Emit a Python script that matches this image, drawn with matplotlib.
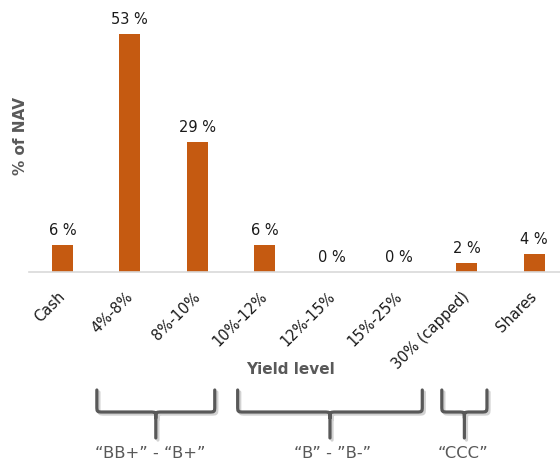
import matplotlib
matplotlib.use("Agg")
import matplotlib.pyplot as plt
import matplotlib.patheffects as pe
import matplotlib.transforms as mtransforms
from matplotlib.path import Path
from matplotlib.patches import PathPatch

# Data
categories = ["Cash", "4%-8%", "8%-10%", "10%-12%", "12%-15%", "15%-25%", "30% (capped)", "Shares"]
values = [6, 53, 29, 6, 0, 0, 2, 4]

# rating groups shown under the axis (x span in category units)
group_labels = ["\u201cBB+\u201d - \u201cB+\u201d", "\u201cB\u201d - \u201dB-\u201d", "\u201cCCC\u201d"]
group_spans = [(0.51, 2.26), (2.60, 5.34), (5.63, 6.30)]
group_label_x = [1.30, 4.01, 5.95]

bar_color = "#C55A11"
grey = "#595959"

plt.rcParams['font.family'] = ['DejaVu Sans']

fig = plt.figure(figsize=(5.6, 4.66), dpi=100)
ax = fig.add_axes([28.8 / 560, 194 / 466, 539 / 560, 272 / 466])

x = range(len(categories))
ax.bar(x, values, width=0.31, color=bar_color, zorder=2)
ax.set_xlim(-0.5, len(categories) - 0.5)
ax.set_ylim(0, 60.5)

for i, v in zip(x, values):
    ax.annotate(f"{v} %", (i, v), xytext=(0, 5), textcoords="offset points",
                ha="center", va="bottom", fontsize=10.5, color="#1a1a1a")

ax.set_xticks(list(x))
ax.set_xticklabels(categories, rotation=45, ha="right", rotation_mode="anchor",
                   fontsize=10.5, color="#1a1a1a")
ax.tick_params(axis="x", length=0, pad=8)
shift = mtransforms.ScaledTranslation(-5 / 100, -6 / 100, fig.dpi_scale_trans)
for lab in ax.get_xticklabels():
    lab.set_transform(lab.get_transform() + shift)
ax.set_yticks([])

for s in ["top", "right", "left"]:
    ax.spines[s].set_visible(False)
ax.spines["bottom"].set_color("#d9d9d9")
ax.spines["bottom"].set_linewidth(1.2)

ax.set_ylabel("% of NAV", fontsize=11, color=grey, fontweight="bold")
ax.yaxis.set_label_coords(-0.001, 0.5)
ax.text(0.486, -0.36, "Yield level", transform=ax.transAxes, ha="center", va="center",
        fontsize=11, color=grey, fontweight="bold")

# braces
px_x = 539 / 8
px_y = 272 / 60.5
y_top = -(390 - 272) / px_y
y_mid = -(412 - 272) / px_y
y_tip = -(438 - 272) / px_y
rx = 6 / px_x
ry = 6 / px_y
for (x0, x1), lab, lx in zip(group_spans, group_labels, group_label_x):
    xc = (x0 + x1) / 2
    verts = [
        (x0, y_top), (x0, y_mid + ry),
        (x0, y_mid), (x0, y_mid), (x0 + rx, y_mid),
        (xc - rx, y_mid),
        (xc, y_mid), (xc, y_mid), (xc, y_mid - ry),
        (xc, y_tip),
        (x1, y_top), (x1, y_mid + ry),
        (x1, y_mid), (x1, y_mid), (x1 - rx, y_mid),
        (xc + rx, y_mid),
        (xc, y_mid), (xc, y_mid), (xc, y_mid - ry),
    ]
    codes = [Path.MOVETO, Path.LINETO, Path.CURVE4, Path.CURVE4, Path.CURVE4,
             Path.LINETO, Path.CURVE4, Path.CURVE4, Path.CURVE4, Path.LINETO,
             Path.MOVETO, Path.LINETO, Path.CURVE4, Path.CURVE4, Path.CURVE4,
             Path.LINETO, Path.CURVE4, Path.CURVE4, Path.CURVE4]
    patch = PathPatch(Path(verts, codes), fill=False, lw=2.3, ec=grey, clip_on=False,
                      capstyle="round", joinstyle="round",
                      path_effects=[pe.SimpleLineShadow(offset=(1.5, -1.5), shadow_color="gray", alpha=0.35),
                                    pe.Normal()])
    ax.add_patch(patch)
    ax.text(lx, -(453 - 272) / px_y, lab, ha="center", va="center",
            fontsize=11.8, color=grey, clip_on=False)

fig.savefig("out.png", dpi=100)
